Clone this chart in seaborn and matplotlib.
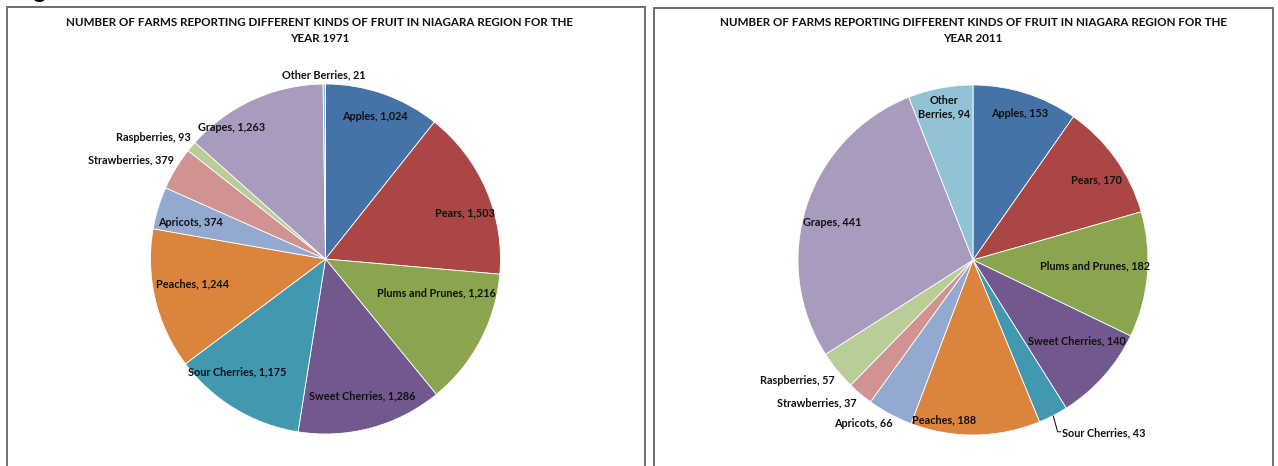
import matplotlib
matplotlib.use("Agg")
import matplotlib.pyplot as plt
from matplotlib.patches import Rectangle
import numpy as np
import seaborn as sns

# ---- data -------------------------------------------------------------
fruits = ["Apples", "Pears", "Plums and Prunes", "Sweet Cherries", "Sour Cherries",
          "Peaches", "Apricots", "Strawberries", "Raspberries", "Grapes", "Other Berries"]
farms_1971 = [1024, 1503, 1216, 1286, 1175, 1244, 374, 379, 93, 1263, 21]
farms_2011 = [153, 170, 182, 140, 43, 188, 66, 37, 57, 441, 94]
years = ["1971", "2011"]

# ---- styling ----------------------------------------------------------
sns.set_theme(style="white")
plt.rcParams["font.family"] = ["Lato", "DejaVu Sans"]
palette = sns.color_palette(["#4572A7", "#AA4643", "#89A54E", "#71588F", "#4198AF",
                             "#DB843D", "#93A9CF", "#D19392", "#B9CD96", "#A99BBD",
                             "#92C3D5"])

# label placement per slice: (radius fraction, clockwise nudge in degrees, h-align)
layout_1971 = [(0.86, 0, "center"), (0.84, 5, "center"), (0.66, -11, "center"),
               (0.81, 0, "center"), (0.82, 7, "center"), (0.77, 3, "center"),
               (0.80, -2, "center"), (1.034, 2, "right"), (1.034, 2, "right"),
               (0.92, -11, "center"), (1.05, 0, "center")]
layout_2011 = [(0.88, 0, "center"), (0.84, 2.5, "center"), (0.70, -2, "center"),
               (0.75, -4, "center"), (1.11, 0, "left"), (0.93, 11, "center"),
               (1.04, -2, "right"), (1.05, -1, "right"), (1.05, -2, "right"),
               (0.83, -3, "center"), (0.89, 0, "center")]

W, H = 1278, 466
fig = plt.figure(figsize=(W / 100, H / 100), dpi=100)
fig.patch.set_facecolor("white")

# chart frames, running off the bottom edge
for x0, x1, top in [(7, 645, 7), (654, 1273, 8)]:
    fig.add_artist(Rectangle((x0 / W, -0.05), (x1 - x0) / W, 1.05 - top / H,
                             transform=fig.transFigure, fill=False,
                             edgecolor="#6e6e6e", linewidth=1.4))

# caption above the charts (runs off the top edge)
fig.text(14 / W, 1 + 1.5 / H, "Figure 3: Fruit Farms", fontsize=17,
         fontweight="bold", color="black", va="baseline", ha="left")

R_PX = 175.0
BOX = 200.0
LABEL_SIZE = 7.8
TITLE_SIZE = 8.4


def draw_pie(cx, cy, values, year, layout, title_cx):
    ax = fig.add_axes([(cx - BOX) / W, (H - cy - BOX) / H, 2 * BOX / W, 2 * BOX / H])
    lim = BOX / R_PX
    wedges, _ = ax.pie(values, colors=palette, startangle=90, counterclock=False,
                       radius=1.0, wedgeprops=dict(edgecolor="white", linewidth=0.6))
    ax.set_xlim(-lim, lim)
    ax.set_ylim(-lim, lim)
    ax.set_aspect("equal")
    ax.axis("off")

    for w, name, val, (d, nudge, ha) in zip(wedges, fruits, values, layout):
        mid = np.deg2rad((w.theta1 + w.theta2) / 2 - nudge)
        x, y = d * np.cos(mid), d * np.sin(mid)
        if year == "2011" and name == "Other Berries":
            text = "Other\nBerries, {:,}".format(val)
        else:
            text = "{}, {:,}".format(name, val)
        ax.text(x, y, text, ha=ha, va="center", fontsize=LABEL_SIZE, fontweight="bold",
                color="#111111", linespacing=1.2)
        if ha == "left":
            # leader line from the slice edge to its label
            emid = np.deg2rad((w.theta1 + w.theta2) / 2)
            ex, ey = np.cos(emid), np.sin(emid)
            ax.plot([ex, x - 0.025, x - 0.005], [ey, y + 0.005, y + 0.005],
                    color="black", linewidth=0.7, solid_capstyle="butt")

    fig.text(title_cx / W, 1 - 23 / H,
             "NUMBER OF FARMS REPORTING DIFFERENT KINDS OF FRUIT IN NIAGARA REGION FOR THE",
             ha="center", va="center", fontsize=TITLE_SIZE, fontweight="bold", color="#111111")
    fig.text(title_cx / W, 1 - 39 / H, "YEAR " + year,
             ha="center", va="center", fontsize=TITLE_SIZE, fontweight="bold", color="#111111")


draw_pie(325.5, 259, farms_1971, years[0], layout_1971, 320)
draw_pie(973, 260, farms_2011, years[1], layout_2011, 973)

fig.savefig("out.png", dpi=100, facecolor="white")
